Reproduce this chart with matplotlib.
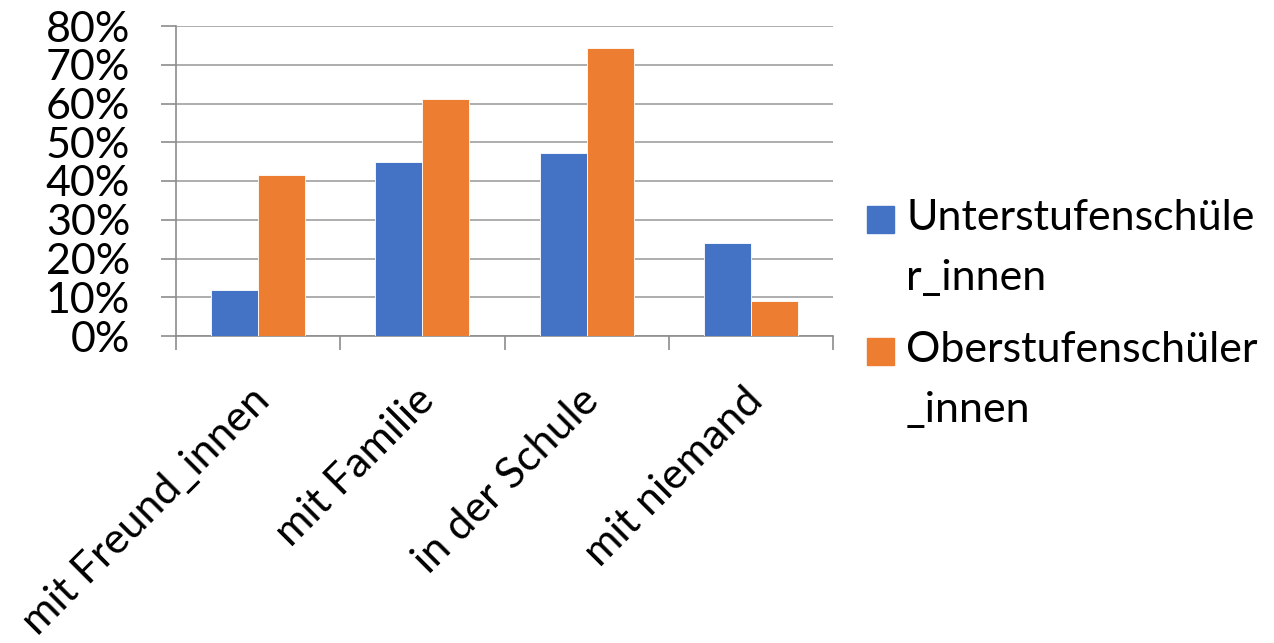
import matplotlib
matplotlib.use("Agg")
import matplotlib.pyplot as plt
from matplotlib.ticker import PercentFormatter, FixedLocator
from matplotlib.patches import Rectangle
import numpy as np

categories = ["mit Freund_innen", "mit Familie", "in der Schule", "mit niemand"]
unterstufe = [0.119, 0.448, 0.471, 0.241]
oberstufe = [0.415, 0.611, 0.744, 0.090]
series_labels = ["Unterstufenschüle\nr_innen", "Oberstufenschüler\n_innen"]
colors = ["#4472C4", "#ED7D31"]
y_ticks = [0, 0.1, 0.2, 0.3, 0.4, 0.5, 0.6, 0.7, 0.8]

plt.rcParams["font.family"] = ["Lato", "DejaVu Sans"]
FS = 31
AXIS_GRAY = "#8c8c8c"
GRID_GRAY = "#a0a0a0"

W, H = 1274, 643
fig = plt.figure(figsize=(W / 100, H / 100), dpi=100)
ax = fig.add_axes([176 / W, 1 - 336 / H, (833 - 176) / W, (336 - 26) / H])

x = np.arange(len(categories))
bw = 1 / 3.5
for i, (vals, col) in enumerate(zip([unterstufe, oberstufe], colors)):
    ax.bar(x + (i - 0.5) * bw, vals, width=bw, color=col,
           edgecolor="white", linewidth=0.6, zorder=3)

ax.set_xlim(-0.5, len(categories) - 0.5)
ax.set_ylim(0, 0.8)
ax.yaxis.set_major_locator(FixedLocator(y_ticks))
ax.yaxis.set_major_formatter(PercentFormatter(1.0, decimals=0))
ax.grid(axis="y", color=GRID_GRAY, linewidth=1.2, zorder=0)
ax.set_axisbelow(True)

for s in ["top", "right"]:
    ax.spines[s].set_visible(False)
for s in ["left", "bottom"]:
    ax.spines[s].set_color(AXIS_GRAY)
    ax.spines[s].set_linewidth(1.2)

ax.tick_params(axis="y", direction="out", length=11, width=1.2,
               color=AXIS_GRAY, labelsize=FS, pad=22)

# category labels at the centres, tick marks at the boundaries
ax.set_xticks(x)
ax.set_xticklabels([])
ax.set_xticks(np.arange(len(categories) + 1) - 0.5, minor=True)
ax.tick_params(axis="x", which="major", length=0)
ax.tick_params(axis="x", which="minor", direction="out", length=10,
               width=1.2, color=AXIS_GRAY)
for xi, lab in zip(x, categories):
    ax.annotate(lab, xy=(xi, 0), xycoords=("data", "axes fraction"),
                xytext=(4, -42), textcoords="offset points",
                rotation=45, rotation_mode="anchor", ha="right", va="center",
                fontsize=FS, color="black")

# legend
sq = 27
for k, (lab, col) in enumerate(zip(series_labels, colors)):
    top = 206 + k * 132
    fig.patches.append(Rectangle((867 / W, 1 - (top + sq) / H), sq / W, sq / H,
                                 transform=fig.transFigure, color=col))
    fig.text(906 / W, 1 - (top - 7) / H, lab, fontsize=FS, va="top",
             ha="left", linespacing=1.7,
             transform=fig.transFigure)

fig.savefig("out.png", dpi=100)
